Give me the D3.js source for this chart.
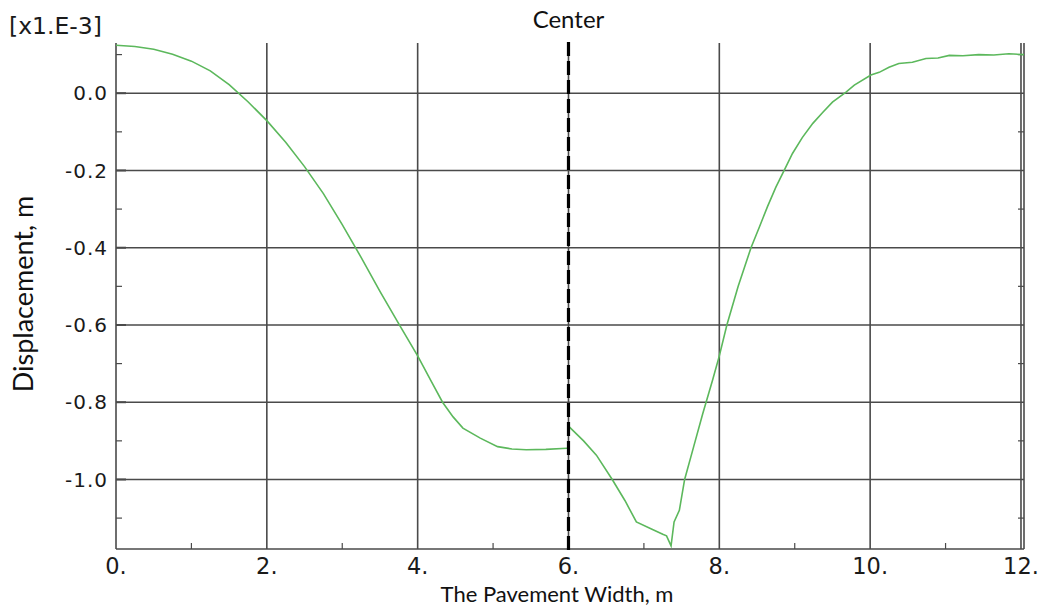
<!DOCTYPE html>
<html><head><meta charset="utf-8">
<script src="https://cdn.jsdelivr.net/npm/d3@7"></script>
<style>body{margin:0;background:#fff}svg{display:block}</style>
</head><body><svg id="c" width="1048" height="612"></svg>
<script>
const xTicks = [0, 2, 4, 6, 8, 10, 12];
const xMinorTicks = [1, 3, 5, 7, 9, 11];
const yTicks = [0.0, -0.2, -0.4, -0.6, -0.8, -1.0];
const yMinorTicks = [0.1, -0.1, -0.3, -0.5, -0.7, -0.9, -1.1];
const xTickLabels = ["0.", "2.", "4.", "6.", "8.", "10.", "12."];
const yTickLabels = ["0.0", "-0.2", "-0.4", "-0.6", "-0.8", "-1.0"];
const centerX = 6;
// left half of the pavement
const leftX = [0, 0.25, 0.5, 0.75, 1.0, 1.25, 1.5, 1.75, 2.0, 2.25, 2.5, 2.75, 3.0, 3.25, 3.5, 3.75, 4.0, 4.17, 4.33, 4.47, 4.6, 4.83, 5.06, 5.25, 5.44, 5.7, 5.98];
const leftY = [0.124, 0.121, 0.114, 0.101, 0.083, 0.058, 0.022, -0.022, -0.071, -0.127, -0.19, -0.26, -0.34, -0.425, -0.513, -0.597, -0.68, -0.742, -0.80, -0.838, -0.867, -0.893, -0.915, -0.921, -0.923, -0.922, -0.919];
// right half of the pavement
const rightX = [6.01, 6.2, 6.37, 6.58, 6.75, 6.9, 7.1, 7.25, 7.3, 7.36, 7.40, 7.47, 7.54, 7.66, 7.78, 7.91, 8.0, 8.1, 8.25, 8.42, 8.53, 8.64, 8.75, 8.86, 8.97, 9.1, 9.24, 9.37, 9.5, 9.68, 9.79, 10.01, 10.12, 10.25, 10.38, 10.56, 10.74, 10.9, 11.05, 11.23, 11.44, 11.64, 11.84, 12.04];
const rightY = [-0.864, -0.9, -0.937, -1.0, -1.055, -1.11, -1.128, -1.142, -1.146, -1.172, -1.11, -1.08, -1.0, -0.915, -0.83, -0.743, -0.68, -0.6, -0.50, -0.40, -0.347, -0.293, -0.243, -0.2, -0.156, -0.115, -0.078, -0.05, -0.023, 0.003, 0.021, 0.047, 0.054, 0.067, 0.077, 0.08, 0.09, 0.091, 0.098, 0.097, 0.1, 0.099, 0.102, 0.1];

const svg = d3.select("#c");
const L = 116, R = 1024, T = 43, B = 549;
const x = d3.scaleLinear().domain([0, 12.04]).range([L, R]);
const y = d3.scaleLinear().domain([-1.18, 0.13]).range([B, T]);
const gridColor = "#4a4a4a";

const g = svg.append("g");
g.selectAll(".hg").data(yTicks).join("line")
  .attr("x1", L).attr("x2", R).attr("y1", d => y(d)).attr("y2", d => y(d))
  .attr("stroke", gridColor).attr("stroke-width", 1.6);
g.selectAll(".vg").data(xTicks.filter(d => d > 0)).join("line")
  .attr("x1", d => x(d)).attr("x2", d => x(d)).attr("y1", T).attr("y2", B)
  .attr("stroke", gridColor).attr("stroke-width", 1.6);
g.append("line").attr("x1", L).attr("x2", L).attr("y1", T).attr("y2", B).attr("stroke", gridColor).attr("stroke-width", 1.6);
g.append("line").attr("x1", L).attr("x2", R).attr("y1", B).attr("y2", B).attr("stroke", gridColor).attr("stroke-width", 1.6);
g.append("line").attr("x1", R).attr("x2", R).attr("y1", T).attr("y2", B).attr("stroke", gridColor).attr("stroke-width", 1.6);
g.selectAll(".ym").data(yMinorTicks).join("line")
  .attr("x1", L).attr("x2", L + 6).attr("y1", d => y(d)).attr("y2", d => y(d))
  .attr("stroke", gridColor).attr("stroke-width", 1.2);
g.selectAll(".ymr").data(yMinorTicks).join("line")
  .attr("x1", R - 6).attr("x2", R).attr("y1", d => y(d)).attr("y2", d => y(d))
  .attr("stroke", gridColor).attr("stroke-width", 1.2);
g.selectAll(".xm").data(xMinorTicks).join("line")
  .attr("x1", d => x(d)).attr("x2", d => x(d)).attr("y1", B).attr("y2", B - 6)
  .attr("stroke", gridColor).attr("stroke-width", 1.2);
g.selectAll(".yM").data(yTicks).join("line")
  .attr("x1", L).attr("x2", L + 10).attr("y1", d => y(d)).attr("y2", d => y(d))
  .attr("stroke", gridColor).attr("stroke-width", 2);

svg.selectAll(".yl").data(yTicks).join("text")
  .attr("x", L - 8).attr("y", d => y(d)).attr("dy", "0.36em")
  .attr("text-anchor", "end").attr("letter-spacing", 1)
  .attr("font-family", "DejaVu Sans").attr("font-size", 20).attr("fill", "#1a1a1a")
  .text((d, i) => yTickLabels[i]);
svg.selectAll(".xl").data(xTicks).join("text")
  .attr("x", d => x(d)).attr("y", 574).attr("text-anchor", "middle")
  .attr("font-family", "DejaVu Sans").attr("font-size", 22.5).attr("fill", "#1a1a1a")
  .text((d, i) => xTickLabels[i]);

const line = d3.line().x(d => x(d[0])).y(d => y(d[1]));
const leftPts = leftX.map((v, i) => [v, leftY[i]]);
const rightPts = rightX.map((v, i) => [v, rightY[i]]);
svg.append("path").attr("d", line(leftPts)).attr("fill", "none")
  .attr("stroke", "#5cb85c").attr("stroke-width", 1.6);
svg.append("path").attr("d", line(rightPts)).attr("fill", "none")
  .attr("stroke", "#5cb85c").attr("stroke-width", 1.6);

svg.append("line").attr("x1", x(centerX)).attr("x2", x(centerX)).attr("y1", T - 1).attr("y2", B + 6)
  .attr("stroke", "#000").attr("stroke-width", 3.2).attr("stroke-dasharray", "14,5");
svg.append("text").attr("x", x(centerX)).attr("y", 28).attr("text-anchor", "middle")
  .attr("font-family", "Lato").attr("font-size", 24).attr("fill", "#111").text("Center");

svg.append("text").attr("x", 9).attr("y", 34)
  .attr("font-family", "DejaVu Sans").attr("font-size", 23.5).attr("fill", "#1a1a1a")
  .text("[x1.E-3]");

svg.append("text").attr("x", 557).attr("y", 602).attr("text-anchor", "middle")
  .attr("font-family", "Lato").attr("font-size", 22).attr("fill", "#111").text("The Pavement Width, m");
svg.append("text").attr("transform", "translate(33,294) rotate(-90)").attr("text-anchor", "middle")
  .attr("font-family", "Lato").attr("font-size", 27).attr("fill", "#111").text("Displacement, m");
</script></body></html>
